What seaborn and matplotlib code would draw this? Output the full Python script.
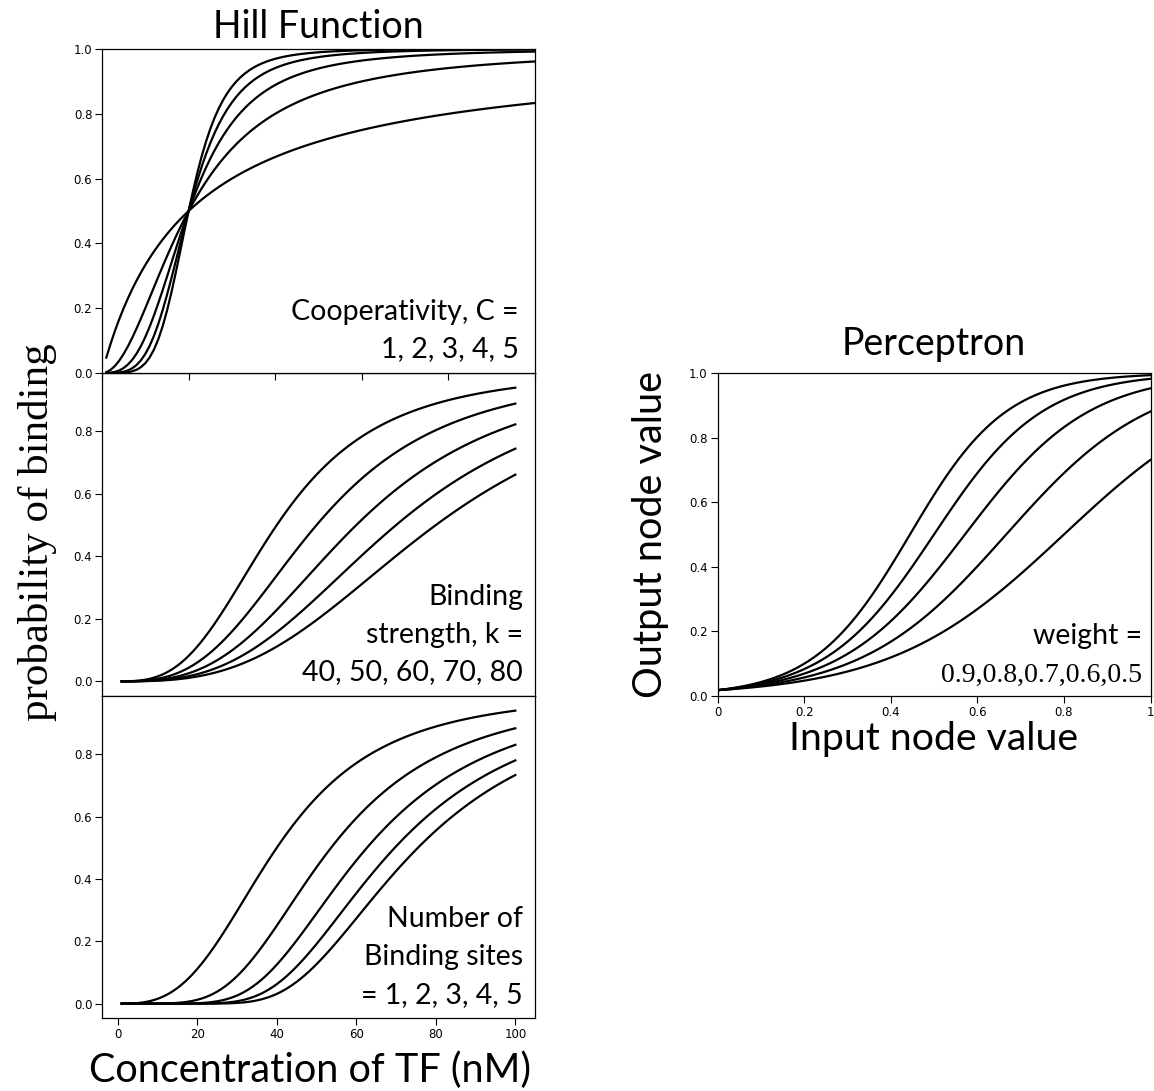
import numpy as np
import pandas as pd
import matplotlib
matplotlib.use("Agg")
import matplotlib.pyplot as plt
import seaborn as sns

# ---- model parameters (as written in the panel annotations) ----
cooperativity = [1, 2, 3, 4, 5]          # Hill coefficient C, half-saturation 20 nM
hill_half_sat = 20.0
binding_strength = [40, 50, 60, 70, 80]  # k (nM), Hill coefficient 3
binding_hill_n = 3
binding_sites = [1, 2, 3, 4, 5]          # independent sites, k = 40 nM, n = 3
sites_k = 40.0
weights = [0.9, 0.8, 0.7, 0.6, 0.5]      # perceptron weights
perc_gain = 10.0
perc_bias = -4.0

conc = np.arange(1, 101)                 # TF concentration (nM)
inputs = np.linspace(0, 1, 101)          # perceptron input

conc_ticks = [0, 20, 40, 60, 80, 100]
prob_ticks = [0.0, 0.2, 0.4, 0.6, 0.8, 1.0]
input_ticks = [0, 0.2, 0.4, 0.6, 0.8, 1.0]
input_tick_labels = ["0", "0.2", "0.4", "0.6", "0.8", "1"]


def hill(x, k, n):
    return x ** n / (x ** n + k ** n)


df_coop = pd.concat([pd.DataFrame({"x": conc, "y": hill(conc, hill_half_sat, c), "p": c})
                     for c in cooperativity])
df_k = pd.concat([pd.DataFrame({"x": conc, "y": hill(conc, k, binding_hill_n), "p": k})
                  for k in binding_strength])
df_sites = pd.concat([pd.DataFrame({"x": conc, "y": hill(conc, sites_k, binding_hill_n) ** s, "p": s})
                      for s in binding_sites])
df_perc = pd.concat([pd.DataFrame({"x": inputs,
                                   "y": 1 / (1 + np.exp(-(perc_gain * w * inputs + perc_bias))),
                                   "p": w})
                     for w in weights])

SANS = ["Lato", "DejaVu Sans"]
SERIF = ["Liberation Serif", "DejaVu Serif"]

plt.rcParams["font.family"] = ["DejaVu Sans"]
plt.rcParams["axes.linewidth"] = 0.9

W, H = 1154, 1091
fig = plt.figure(figsize=(W / 100, H / 100), dpi=100)


def px_axes(left, top, right, bottom):
    return fig.add_axes([left / W, 1 - bottom / H, (right - left) / W, (bottom - top) / H])


ax_top = px_axes(102, 49, 535, 373)
ax_mid = px_axes(102, 373, 535, 696)
ax_bot = px_axes(102, 696, 535, 1018.3)
ax_per = px_axes(717.5, 373, 1150.5, 696)
ax_top.set_zorder(3)

LW = 1.6
for ax, df in [(ax_top, df_coop), (ax_mid, df_k), (ax_bot, df_sites), (ax_per, df_perc)]:
    sns.lineplot(data=df, x="x", y="y", units="p", estimator=None, color="black",
                 linewidth=LW, ax=ax, legend=False)
    ax.set_xlabel("")
    ax.set_ylabel("")
    ax.tick_params(labelsize=8.5, length=5, width=0.8, pad=2, colors="black")

# Hill panels
ax_top.set_xlim(0, 100)
ax_top.set_ylim(0, 1)
ax_top.set_xticks(conc_ticks)
ax_top.set_yticks(prob_ticks)
ax_top.tick_params(axis="x", labelbottom=False)

ax_mid.set_xlim(ax_bot.get_xlim())
ax_mid.tick_params(axis="x", bottom=False, labelbottom=False)
ax_mid.set_yticks(prob_ticks[:-1])
ax_bot.set_xticks(conc_ticks)
ax_bot.set_yticks(prob_ticks[:-1])

ax_top.set_title("Hill Function", fontsize=27, family=SANS, pad=8)

ax_bot.set_xlabel("Concentration of TF (nM)", fontsize=28.5, family=SANS)
ax_bot.xaxis.set_label_coords(0.48, -0.1967)
ax_bot.xaxis.label.set_verticalalignment("baseline")

ax_mid.set_ylabel("probability of binding", fontsize=31, family=SERIF)
ax_mid.yaxis.label.set_rotation_mode("anchor")
ax_mid.yaxis.label.set_verticalalignment("baseline")
ax_mid.yaxis.label.set_horizontalalignment("center")
ax_mid.yaxis.set_label_coords(-0.1247, 0.506)

# Perceptron panel
ax_per.set_xlim(0, 1)
ax_per.set_ylim(0, 1)
ax_per.set_xticks(input_ticks)
ax_per.set_xticklabels(input_tick_labels)
ax_per.set_yticks(prob_ticks)
ax_per.set_title("Perceptron", fontsize=27, family=SANS, pad=13)
ax_per.set_xlabel("Input node value", fontsize=28.3, family=SANS)
ax_per.xaxis.set_label_coords(0.5, -0.167)
ax_per.xaxis.label.set_verticalalignment("baseline")
ax_per.set_ylabel("Output node value", fontsize=28.5, family=SANS)
ax_per.yaxis.label.set_rotation_mode("anchor")
ax_per.yaxis.label.set_verticalalignment("baseline")
ax_per.yaxis.label.set_horizontalalignment("center")
ax_per.yaxis.set_label_coords(-0.1275, 0.5)


def annotate(ax, x, lines):
    for (txt, y, fam, fs) in lines:
        ax.text(x, y, txt, transform=ax.transAxes, ha="right", va="baseline",
                fontsize=fs, family=fam)


FS = 20.5
annotate(ax_top, 0.963, [("Cooperativity, C =", 0.1636, SANS, FS),
                         (", ".join(str(c) for c in cooperativity), 0.0503, SANS, FS)])
annotate(ax_mid, 0.972, [("Binding", 0.2817, SANS, FS),
                         ("strength, k =", 0.1641, SANS, FS),
                         (", ".join(str(k) for k in binding_strength), 0.0495, SANS, FS)])
annotate(ax_bot, 0.972, [("Number of", 0.2842, SANS, FS),
                         ("Binding sites", 0.1654, SANS, FS),
                         ("= " + ", ".join(str(s) for s in binding_sites), 0.0465, SANS, FS)])
annotate(ax_per, 0.980, [("weight =", 0.1625, SANS, FS),
                         (",".join(str(w) for w in weights), 0.0445, SERIF, 20)])

fig.savefig("out.png", dpi=100)
